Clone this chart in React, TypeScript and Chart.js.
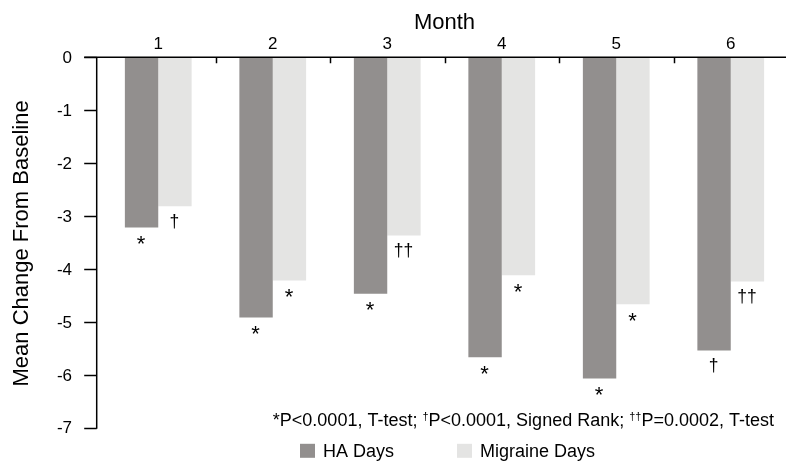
import { useEffect, useRef } from 'react';
import { Chart, registerables } from 'chart.js';

Chart.register(...registerables);

const FONT = "'Liberation Sans', Arial, Helvetica, sans-serif";

const months = ['1', '2', '3', '4', '5', '6'];
const haDays = [-3.2, -4.9, -4.45, -5.65, -6.05, -5.52];
const migraineDays = [-2.8, -4.2, -3.35, -4.1, -4.65, -4.22];
const haMarks = ['*', '*', '*', '*', '*', '†'];
const migraineMarks = ['†', '*', '††', '*', '*', '††'];
const seriesLabels = ['HA Days', 'Migraine Days'];
const seriesColors = ['#928f8e', '#e4e4e3'];
const yMin = -7;
const yMax = 0;
const footnoteParts: { t: string; sup?: boolean }[] = [
  { t: '*P<0.0001, T-test; ' },
  { t: '†', sup: true },
  { t: 'P<0.0001, Signed Rank; ' },
  { t: '††', sup: true },
  { t: 'P=0.0002, T-test' },
];

export default function App() {
  const ref = useRef<HTMLCanvasElement>(null);

  useEffect(() => {
    document.body.style.margin = '0';
    const canvas = ref.current!;
    const marks = [haMarks, migraineMarks];

    const customPlugin = {
      id: 'customDecor',
      afterDatasetsDraw(chart: any) {
        const ctx = chart.ctx;
        ctx.save();
        ctx.fillStyle = '#000';
        ctx.textAlign = 'center';
        ctx.textBaseline = 'alphabetic';
        chart.data.datasets.forEach((_: any, di: number) => {
          const meta = chart.getDatasetMeta(di);
          meta.data.forEach((bar: any, i: number) => {
            const m = marks[di][i];
            const size = m.startsWith('*') ? 22 : 17.5;
            ctx.font = `${size}px ${FONT}`;
            ctx.fillText(m, bar.x - 0.5, bar.y + 8 + 0.716 * size);
          });
        });
        ctx.restore();
      },
      afterDraw(chart: any) {
        const ctx = chart.ctx;
        const area = chart.chartArea;
        const yScale = chart.scales.y;
        const xScale = chart.scales.x;
        const axisX = area.left - 4.3;
        ctx.save();
        ctx.strokeStyle = '#000';
        ctx.lineWidth = 1.5;
        // y axis line
        ctx.beginPath();
        ctx.moveTo(axisX, yScale.getPixelForValue(yMax));
        ctx.lineTo(axisX, yScale.getPixelForValue(yMin));
        ctx.stroke();
        // y ticks
        for (let v = yMax; v >= yMin; v--) {
          const py = Math.round(yScale.getPixelForValue(v)) - 0.5;
          ctx.beginPath();
          ctx.moveTo(axisX - 12.5, py);
          ctx.lineTo(axisX, py);
          ctx.stroke();
        }
        // x axis line (top)
        const topY = Math.round(area.top) - 0.75;
        ctx.beginPath();
        ctx.moveTo(axisX - 12.5, topY);
        ctx.lineTo(chart.width, topY);
        ctx.stroke();
        // inward ticks at category boundaries
        const step = xScale.getPixelForValue(1) - xScale.getPixelForValue(0);
        for (let i = 0; i < months.length - 1; i++) {
          const px = Math.round(xScale.getPixelForValue(i) + step / 2) + 0.5;
          ctx.beginPath();
          ctx.moveTo(px, topY);
          ctx.lineTo(px, topY + 6);
          ctx.stroke();
        }

        // footnote
        const big = `18px ${FONT}`;
        const small = `11px ${FONT}`;
        let total = 0;
        footnoteParts.forEach((p) => {
          ctx.font = p.sup ? small : big;
          total += ctx.measureText(p.t).width;
        });
        let fx = area.right - 14 - total;
        const fy = area.bottom - 3;
        ctx.fillStyle = '#000';
        ctx.textAlign = 'left';
        ctx.textBaseline = 'alphabetic';
        footnoteParts.forEach((p) => {
          ctx.font = p.sup ? small : big;
          ctx.fillText(p.t, fx, p.sup ? fy - 6 : fy);
          fx += ctx.measureText(p.t).width;
        });

        // legend
        const legendX = [300, 457];
        const boxTop = area.bottom + 15;
        ctx.font = big;
        chart.data.datasets.forEach((ds: any, di: number) => {
          ctx.fillStyle = ds.backgroundColor;
          ctx.fillRect(legendX[di], boxTop, 15, 14);
          ctx.fillStyle = '#000';
          ctx.fillText(ds.label, legendX[di] + 23, boxTop + 13.5);
        });
        ctx.restore();
      },
    };

    const chart = new Chart(canvas, {
      type: 'bar',
      data: {
        labels: months,
        datasets: [
          {
            label: seriesLabels[0],
            data: haDays,
            backgroundColor: seriesColors[0],
            borderWidth: 0,
            categoryPercentage: 0.583,
            barPercentage: 1,
          },
          {
            label: seriesLabels[1],
            data: migraineDays,
            backgroundColor: seriesColors[1],
            borderWidth: 0,
            categoryPercentage: 0.583,
            barPercentage: 1,
          },
        ],
      },
      options: {
        responsive: false,
        animation: false,
        layout: { padding: { left: 0, right: 1, top: 0, bottom: 30 } },
        plugins: {
          legend: { display: false },
          tooltip: { enabled: false },
        },
        scales: {
          x: {
            position: 'top',
            offset: true,
            grid: { display: false, drawTicks: false },
            border: { display: false },
            ticks: { padding: 3, color: '#000', font: { size: 17, family: FONT } },
            title: {
              display: true,
              text: 'Month',
              color: '#000',
              font: { size: 22, family: FONT },
              padding: { top: 10, bottom: 0 },
            },
            afterFit(s: any) {
              s.height = 58;
            },
          },
          y: {
            min: yMin,
            max: yMax,
            grid: { display: false, drawTicks: false },
            border: { display: false },
            ticks: { stepSize: 1, padding: 29, color: '#000', font: { size: 17, family: FONT } },
            title: {
              display: true,
              text: 'Mean Change From Baseline',
              color: '#000',
              font: { size: 22, family: FONT },
              padding: { top: 9, bottom: 0 },
            },
            afterFit(s: any) {
              s.width = 101;
            },
          },
        },
      },
      plugins: [customPlugin],
    } as any);

    return () => chart.destroy();
  }, []);

  return (
    <div style={{ width: 786, height: 468, overflow: 'hidden', background: '#fff' }}>
      <canvas ref={ref} width={789} height={468} style={{ display: 'block' }} />
    </div>
  );
}
